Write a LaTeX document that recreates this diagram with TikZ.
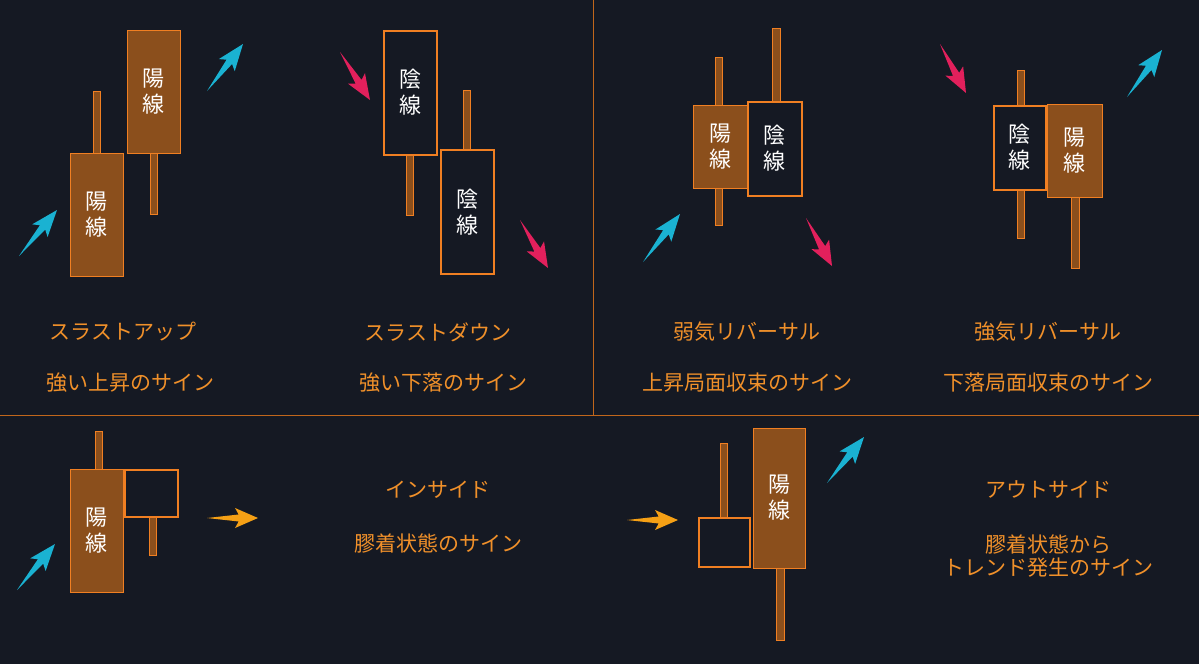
\documentclass[tikz,border=0pt]{standalone}
\usepackage{fontspec}
\newfontfamily\jp{Noto Sans CJK JP}
\definecolor{bg}{HTML}{151923}
\definecolor{brn}{HTML}{8B4F1C}
\definecolor{org}{HTML}{F07F22}
\definecolor{lbl}{HTML}{F0902A}
\definecolor{cy}{HTML}{1AB2D2}
\definecolor{pk}{HTML}{E2205C}
\definecolor{oa}{HTML}{F5A015}
\tikzset{
 x=1pt,y=-1pt,
 bull/.style={draw=org,fill=brn,line width=1pt,inner sep=0pt,font=\jp\fontsize{22}{26}\selectfont,text=white,align=center},
 bear/.style={draw=org,fill=bg,line width=2pt,inner sep=0pt,font=\jp\fontsize{22}{26}\selectfont,text=white,align=center},
 wick/.style={draw=org,fill=brn,line width=0.8pt},
 lab/.style={font=\jp\fontsize{21}{26}\selectfont,text=lbl,align=center},
 divl/.style={draw=org!80!black,line width=0.8pt}
}
\newcommand\myarr[5]{%
 \pgfmathsetmacro\ang{atan2(-(#4-#2),#3-#1)}%
 \pgfmathsetmacro\len{veclen(#3-#1,#4-#2)}%
 \fill[#5,shift={(#1,#2)},rotate=\ang] (0,0) -- (0.62*\len,3.5) -- (0.55*\len,10) -- (\len,0) -- (0.55*\len,-10) -- (0.62*\len,-3.5) -- cycle;}
\newcommand\cdl[6]{% name style x1 y1 x2 y2 text
 \node[#2,minimum width=#5-#3,minimum height=#6-#4] (#1) at ({(#3+#5)/2},{(#4+#6)/2}) {\cdltext};}
\begin{document}
\begin{tikzpicture}
\fill[bg] (0,0) rectangle (1199,664);
\useasboundingbox (0,0) rectangle (1199,664);
\draw[divl] (593,0) -- (593,415);
\draw[divl] (0,415) -- (1199,415);
% panel 1
\draw[wick] (93,91) rectangle (100,153);
\draw[wick] (150,153) rectangle (157,214);
\node[bull,minimum width=53,minimum height=123] (a1) at (96.5,214.5) {陽\\線};
\node[bull,minimum width=53,minimum height=123] (a2) at (153.5,91.5) {陽\\線};
\myarr{19}{256}{57}{210}{cy}
\myarr{207}{91}{243}{44}{cy}
\node[lab] (t1) at (123,332) {スラストアップ};
\node[lab] (s1) at (130,383) {強い上昇のサイン};
% panel 2
\draw[wick] (406,155) rectangle (413,215);
\draw[wick] (463,90) rectangle (470,150);
\node[bear,minimum width=53,minimum height=124] (b1) at (410,92.5) {陰\\線};
\node[bear,minimum width=53,minimum height=124] (b2) at (467.5,212) {陰\\線};
\myarr{340}{52}{370}{100}{pk}
\myarr{520}{220}{548}{268}{pk}
\node[lab] (t2) at (438,332) {スラストダウン};
\node[lab] (s2) at (443,383) {強い下落のサイン};
% panel 3
\draw[wick] (715,57) rectangle (722,225);
\draw[wick] (772,28) rectangle (780,101);
\node[bull,minimum width=54,minimum height=83] (c1) at (720,146.5) {陽\\線};
\node[bear,minimum width=54,minimum height=94] (c2) at (774.5,148.5) {陰\\線};
\myarr{643}{262}{680}{214}{cy}
\myarr{806}{218}{832}{266}{pk}
\node[lab] (t3) at (747,332) {弱気リバーサル};
\node[lab] (s3) at (747,383) {上昇局面収束のサイン};
% panel 4
\draw[wick] (1017,70) rectangle (1024,238);
\draw[wick] (1071,197) rectangle (1079,268);
\node[bear,minimum width=52,minimum height=84] (d1) at (1019.5,147.5) {陰\\線};
\node[bull,minimum width=55,minimum height=93] (d2) at (1074.5,150.5) {陽\\線};
\myarr{940}{44}{966}{93}{pk}
\myarr{1127}{97}{1162}{50}{cy}
\node[lab] (t4) at (1048,332) {強気リバーサル};
\node[lab] (s4) at (1048,383) {下落局面収束のサイン};
% panel 5
\draw[wick] (95,431) rectangle (102,469);
\draw[wick] (149,517) rectangle (156,555);
\node[bull,minimum width=53,minimum height=123] (e1) at (96.5,530.5) {陽\\線};
\node[bear,minimum width=53,minimum height=47] (e2) at (151,493) {};
\myarr{17}{590}{55}{544}{cy}
\myarr{207}{518}{258}{518}{oa}
\node[lab] (t5) at (438,490) {インサイド};
\node[lab] (s5) at (438,543) {膠着状態のサイン};
% panel 6
\draw[wick] (720,443) rectangle (727,517);
\draw[wick] (776,568) rectangle (784,640);
\node[bear,minimum width=51,minimum height=49] (f1) at (724,542) {};
\node[bull,minimum width=52,minimum height=140] (f2) at (779,498) {陽\\線};
\myarr{627}{520}{678}{520}{oa}
\myarr{827}{483}{864}{437}{cy}
\node[lab] (t6) at (1048,490) {アウトサイド};
\node[lab] (s6) at (1048,556) {膠着状態から\\[-3pt]トレンド発生のサイン};
\end{tikzpicture}
\end{document}
